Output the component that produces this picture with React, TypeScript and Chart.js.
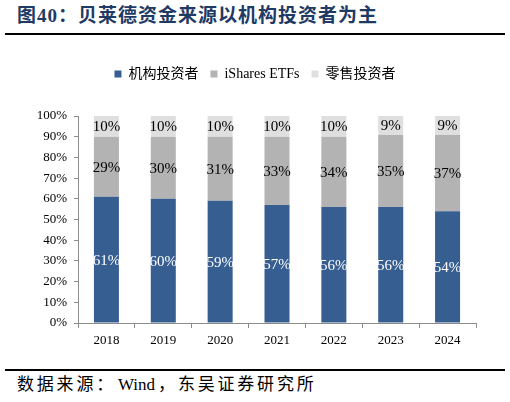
import React, { useEffect, useRef } from 'react';
import { Chart, registerables } from 'chart.js';

Chart.register(...registerables);

const years = ['2018', '2019', '2020', '2021', '2022', '2023', '2024'];
const institutional = [61, 60, 59, 57, 56, 56, 54];
const ishares = [29, 30, 31, 33, 34, 35, 37];
const retail = [10, 10, 10, 10, 10, 9, 9];
const seriesNames = ['机构投资者', 'iShares ETFs', '零售投资者'];
const seriesColors = ['#375E91', '#B3B3B3', '#DFDFDF'];
const labelColors = ['#FFFFFF', '#000000', '#000000'];

const SERIF = "'Liberation Serif', 'Times New Roman', 'Noto Sans CJK SC', serif";

const dataLabels = {
  id: 'dataLabels',
  afterDatasetsDraw(chart: any) {
    const ctx = chart.ctx;
    ctx.save();
    ctx.font = `15px ${SERIF}`;
    ctx.textAlign = 'center';
    ctx.textBaseline = 'middle';
    chart.data.datasets.forEach((ds: any, di: number) => {
      const meta = chart.getDatasetMeta(di);
      meta.data.forEach((el: any, i: number) => {
        const p = el.getProps(['x', 'y', 'base'], true);
        ctx.fillStyle = labelColors[di];
        ctx.fillText(ds.data[i] + '%', p.x, (p.y + p.base) / 2 + 1);
      });
    });
    ctx.restore();
  },
};

const legendSpacer = {
  id: 'legendSpacer',
  beforeLayout(chart: any) {
    const lg = chart.legend;
    if (lg && !lg._patched) {
      const orig = lg.fit;
      lg.fit = function () {
        orig.call(this);
        this.height += 25;
      };
      lg._patched = true;
    }
  },
  afterLayout(chart: any) {
    const lg = chart.legend;
    if (lg) {
      lg.left = 0;
      lg.right = chart.width;
      lg.width = chart.width;
    }
  },
};

export default function App() {
  const ref = useRef<HTMLCanvasElement | null>(null);

  useEffect(() => {
    if (!ref.current) return;
    const chart = new Chart(ref.current, {
      type: 'bar',
      data: {
        labels: years,
        datasets: [
          { label: seriesNames[0], data: institutional, backgroundColor: seriesColors[0] },
          { label: seriesNames[1], data: ishares, backgroundColor: seriesColors[1] },
          { label: seriesNames[2], data: retail, backgroundColor: seriesColors[2] },
        ],
      },
      options: {
        animation: false,
        responsive: false,
        devicePixelRatio: 1,
        layout: { padding: { top: 15, right: 34, left: 0, bottom: 0 } },
        datasets: { bar: { categoryPercentage: 0.44, barPercentage: 1 } },
        plugins: {
          legend: {
            position: 'top',
            labels: {
              boxWidth: 7,
              boxHeight: 7,
              padding: 12,
              color: '#000',
              font: { family: SERIF, size: 14 },
            },
          },
          tooltip: { enabled: false },
        },
        scales: {
          x: {
            stacked: true,
            afterFit(scale: any) {
              scale.height = 37;
            },
            grid: { drawOnChartArea: false, tickLength: 5, color: '#8C8C8C', offset: true },
            border: { color: '#8C8C8C' },
            ticks: { color: '#000', font: { family: SERIF, size: 13 }, padding: 5 },
          },
          y: {
            stacked: true,
            min: 0,
            max: 100,
            afterFit(scale: any) {
              scale.width = 78;
            },
            grid: { drawOnChartArea: false, tickLength: 4, color: '#8C8C8C' },
            border: { color: '#8C8C8C' },
            ticks: {
              stepSize: 10,
              color: '#000',
              padding: 7,
              font: { family: SERIF, size: 13 },
              callback: (v: any) => v + '%',
            },
          },
        },
      },
      plugins: [dataLabels, legendSpacer],
    });
    return () => chart.destroy();
  }, []);

  return (
    <div style={{ position: 'absolute', left: 0, top: 0, width: 510, height: 402, background: '#fff' }}>
      <div
        style={{
          position: 'absolute',
          left: 17,
          top: 3,
          fontFamily: "'Liberation Serif', 'Noto Sans CJK SC', serif",
          fontWeight: 'bold',
          fontSize: 19,
          color: '#1F3A64',
          whiteSpace: 'nowrap',
          lineHeight: '26px',
          letterSpacing: '1px',
        }}
      >
        图40：贝莱德资金来源以机构投资者为主
      </div>
      <div style={{ position: 'absolute', left: 5, top: 33, width: 500, height: 2, background: '#000' }} />
      <canvas ref={ref} width={510} height={320} style={{ position: 'absolute', left: 0, top: 40, width: 510, height: 320 }} />
      <div style={{ position: 'absolute', left: 5, top: 369, width: 500, height: 2, background: '#000' }} />
      <div
        style={{
          position: 'absolute',
          left: 17,
          top: 373,
          fontFamily: "'Liberation Serif', 'Noto Sans CJK SC', serif",
          fontSize: 17,
          color: '#000',
          whiteSpace: 'nowrap',
          lineHeight: '24px',
          letterSpacing: '2.8px',
        }}
      >
        数据来源：<span style={{ letterSpacing: 0, marginLeft: 2, marginRight: 3 }}>Wind</span>，东吴证券研究所
      </div>
    </div>
  );
}
